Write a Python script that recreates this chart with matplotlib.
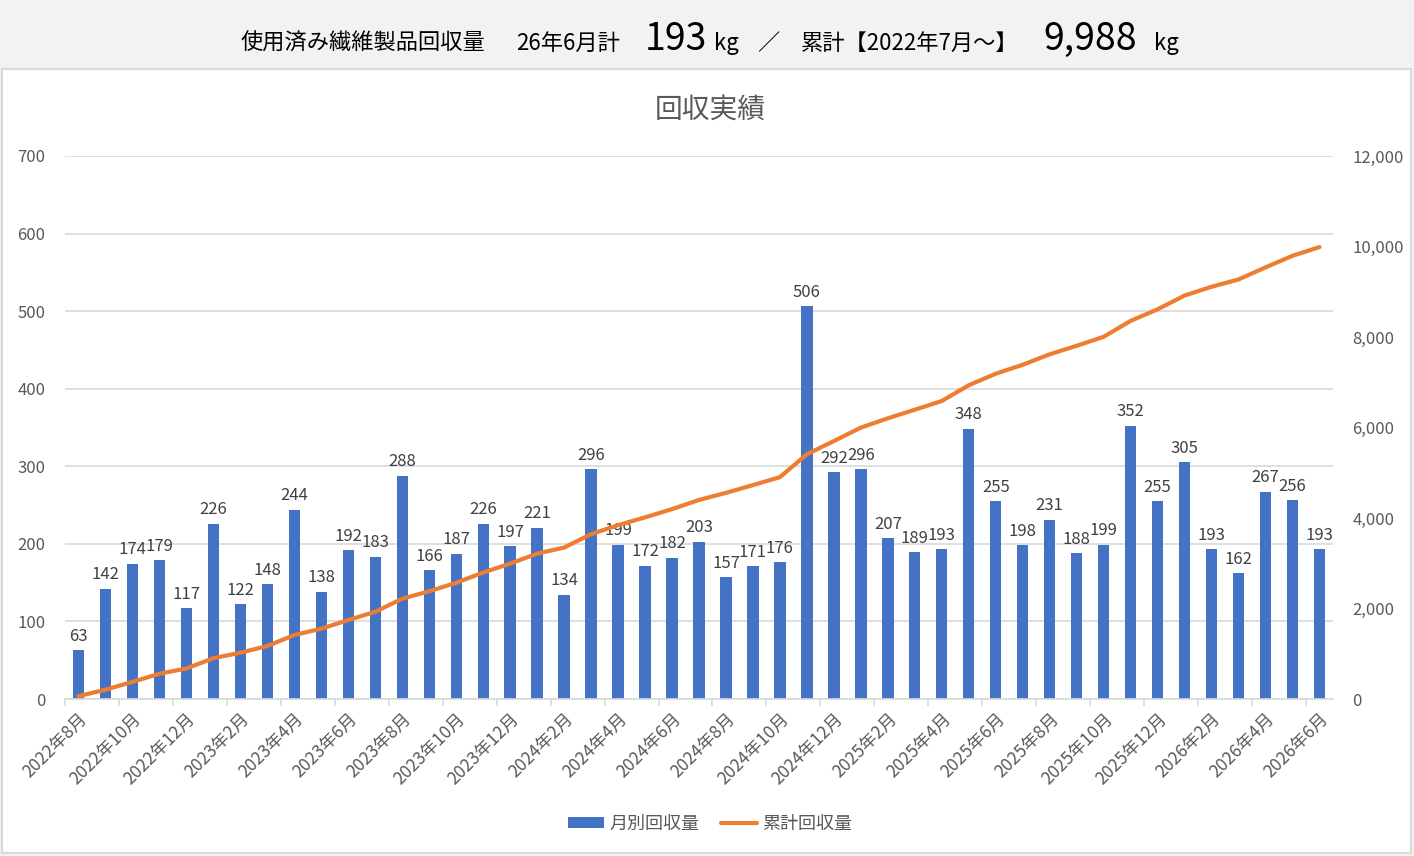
import matplotlib
matplotlib.use("Agg")
import matplotlib.pyplot as plt
from matplotlib.patches import Rectangle, Patch
from matplotlib.lines import Line2D
import numpy as np

plt.rcParams['font.family'] = ['Noto Sans CJK JP', 'DejaVu Sans']

months = [
    "2022年8月", "2022年9月", "2022年10月", "2022年11月", "2022年12月",
    "2023年1月", "2023年2月", "2023年3月", "2023年4月", "2023年5月", "2023年6月",
    "2023年7月", "2023年8月", "2023年9月", "2023年10月", "2023年11月", "2023年12月",
    "2024年1月", "2024年2月", "2024年3月", "2024年4月", "2024年5月", "2024年6月",
    "2024年7月", "2024年8月", "2024年9月", "2024年10月", "2024年11月", "2024年12月",
    "2025年1月", "2025年2月", "2025年3月", "2025年4月", "2025年5月", "2025年6月",
    "2025年7月", "2025年8月", "2025年9月", "2025年10月", "2025年11月", "2025年12月",
    "2026年1月", "2026年2月", "2026年3月", "2026年4月", "2026年5月", "2026年6月",
]
monthly = [63, 142, 174, 179, 117, 226, 122, 148, 244, 138, 192, 183, 288, 166,
           187, 226, 197, 221, 134, 296, 199, 172, 182, 203, 157, 171, 176, 506,
           292, 296, 207, 189, 193, 348, 255, 198, 231, 188, 199, 352, 255, 305,
           193, 162, 267, 256, 193]
cumulative = [63, 205, 379, 558, 675, 901, 1023, 1171, 1415, 1553, 1745, 1928,
              2216, 2382, 2569, 2795, 2992, 3213, 3347, 3643, 3842, 4014, 4196,
              4399, 4556, 4727, 4903, 5409, 5701, 5997, 6204, 6393, 6586, 6934,
              7189, 7387, 7618, 7806, 8005, 8357, 8612, 8917, 9110, 9272, 9539,
              9795, 9988]
left_ticks = [0, 100, 200, 300, 400, 500, 600, 700]
right_ticks = [0, 2000, 4000, 6000, 8000, 10000, 12000]
series_names = ["月別回収量", "累計回収量"]
chart_title = "回収実績"

BLUE = "#4472C4"
ORANGE = "#ED7D31"
GRID = "#D9D9D9"
TXT = "#595959"
LBL = "#404040"

W, H = 1414, 856
fig = plt.figure(figsize=(W / 100, H / 100), dpi=100, facecolor="#F2F2F2")

# white chart panel
fig.patches.append(Rectangle((2 / W, 1 - 853 / H), (1411 - 2) / W, (853 - 69) / H,
                             transform=fig.transFigure, facecolor="white",
                             edgecolor=GRID, linewidth=1.5, zorder=-10))

# header pieces (text, center x px, fontsize)
header = [
    ("使用済み繊維製品回収量", 363, 16),
    ("26年6月計", 568, 16),
    ("193", 676, 27),
    ("kg", 726, 16),
    ("／", 768, 16),
    ("累計【2022年7月～】", 910, 16),
    ("9,988", 1090, 27),
    ("kg", 1166, 16),
]
for t, cx, fs in header:
    fig.text(cx / W, 1 - 50 / H, t, ha="center", va="baseline", fontsize=fs,
             color="#000000")

x0, x1 = 65, 1333
yb, yt = 699, 156
ax = fig.add_axes([x0 / W, 1 - yb / H, (x1 - x0) / W, (yb - yt) / H])
ax.set_facecolor("none")
n = len(months)
x = np.arange(n)
ax.bar(x, monthly, width=0.42, color=BLUE, zorder=2)
ax.set_xlim(-0.5, n - 0.5)
ax.set_ylim(0, 700)
ax.set_yticks(left_ticks)
ax.set_yticklabels([f"{v:,}" for v in left_ticks])
ax.grid(axis="y", color=GRID, linewidth=1.2, zorder=0)
ax.set_axisbelow(True)
for s in ["top", "right", "left"]:
    ax.spines[s].set_visible(False)
ax.spines["bottom"].set_color(GRID)
ax.spines["bottom"].set_linewidth(1.2)
ax.tick_params(axis="y", length=0, labelsize=12, labelcolor=TXT, pad=14)

label_pos = x[::2]
ax.set_xticks(label_pos)
ax.set_xticklabels([months[i] for i in label_pos], rotation=45, ha="right",
                   rotation_mode="anchor", fontsize=12.5, color=TXT)
ax.tick_params(axis="x", length=0, pad=8)
ax.set_xticks(np.arange(-0.5, n - 0.5, 2), minor=True)
ax.tick_params(axis="x", which="minor", length=5, color=GRID, width=1.2)

for xi, v in zip(x, monthly):
    ax.annotate(f"{v}", (xi, v), xytext=(0, 4), textcoords="offset points",
                ha="center", va="bottom", fontsize=12, color=LBL, zorder=5)

ax2 = ax.twinx()
ax2.plot(x, cumulative, color=ORANGE, linewidth=3, solid_capstyle="round", zorder=3)
ax2.set_ylim(0, 12000)
ax2.set_yticks(right_ticks)
ax2.set_yticklabels([f"{v:,}" for v in right_ticks])
for s in ["top", "right", "left", "bottom"]:
    ax2.spines[s].set_visible(False)
ax2.tick_params(axis="y", length=0, labelsize=12, labelcolor=TXT, pad=14)

fig.text(710 / W, 1 - 110 / H, chart_title, ha="center", va="center",
         fontsize=20, color=TXT)

handles = [Patch(facecolor=BLUE, edgecolor="none"),
           Line2D([0], [0], color=ORANGE, linewidth=3, solid_capstyle="round")]
fig.legend(handles, series_names, loc="center", bbox_to_anchor=(710 / W, 1 - 824 / H),
           ncol=2, frameon=False, fontsize=13, labelcolor=TXT, handlelength=2.0,
           handleheight=0.6, handletextpad=0.3, columnspacing=1.2)

fig.savefig("out.png", dpi=100, facecolor=fig.get_facecolor())
